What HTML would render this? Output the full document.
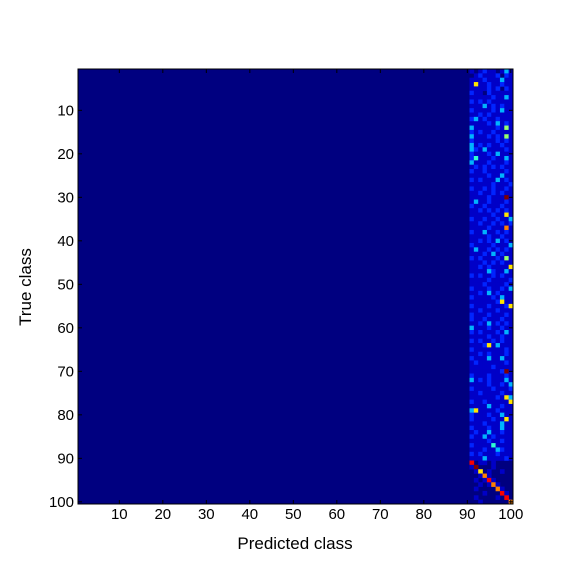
<!DOCTYPE html>
<html><head><meta charset="utf-8"><style>
html,body{margin:0;padding:0;background:#fff;}
svg text{font-family:"Liberation Sans",sans-serif;}
</style></head><body>
<svg id="chart" width="576" height="576" xmlns="http://www.w3.org/2000/svg">
<rect width="576" height="576" fill="#fff"/>
<g id="cells"></g>
<g id="axes"></g>
<text x="295" y="549" font-size="17" text-anchor="middle">Predicted class</text>
<text x="31" y="287" font-size="17" text-anchor="middle" transform="rotate(-90 31 287)">True class</text>
</svg>
<script>
const nClasses = 100;
const firstNonzeroCol = 91;
const tickLabels = [10,20,30,40,50,60,70,80,90,100];
// colour level for each data digit (0..9) on the jet scale
const levelScale = [0,0.07,0.16,0.3,0.42,0.52,0.65,0.75,0.88,1];
// rows 1..100, columns 91..100 (all other columns are 0)
const rowsData = [
"1012110131","0121112021","1112111311","1611211211","1111212021","2110211111","1111121131","2121211111","1113121211","2111121311",
"1121211111","2312112111","1111213121","3111112151","2121121111","3111212151","2111112121","3121211211","3213111121","2111213111",
"2411121131","3111211121","1212121211","2112111121","1111211311","2121113121","1111121112","2112121121","1121121211","1111211191",
"1311211121","2112111211","1121212121","1111121161","2112112113","1121121212","1111211171","2113112121","1111211211","1121213121",
"2111121113","1311212121","1112131211","2121112151","1112121211","1121211116","1111321131","2121121211","1111211112","1112111121",
"2111211213","1121312111","2111121311","1111112611","2111211126","1121112111","2111211121","2112111211","1121312121","3111211211",
"2121112131","1111211211","2121121211","1112613111","2111111121","1121211121","2111311311","1211111121","1111121111","1111111291",
"2111211121","3121211131","1111211213","2111121112","1121111211","1111112163","2112111116","1111311211","3611112111","2111211311",
"2111121161","1112111311","2111211311","1211311211","2113121111","1111211211","2111141111","1112113211","2121112111","1113111121",
"8011010000","1900010000","0160100100","0017100000","0101810000","0010171000","0100007100","0001000810","0100001080","0010000007"
];
const L=78,T=69,S=435;
const cw=S/nClasses;
const xs=k=>L+(k-0.5)*cw;
const ys=k=>T+(k-0.5)*cw;
function jet(v){const c=x=>Math.round(255*Math.max(0,Math.min(1,x)));
 return `rgb(${c(1.5-Math.abs(4*v-3))},${c(1.5-Math.abs(4*v-2))},${c(1.5-Math.abs(4*v-1))})`;}
const NS="http://www.w3.org/2000/svg";
const cells=document.getElementById('cells');
const bg=document.createElementNS(NS,'rect');
bg.setAttribute('x',L);bg.setAttribute('y',T);bg.setAttribute('width',S);bg.setAttribute('height',S);bg.setAttribute('fill',jet(0));


cells.appendChild(bg);
rowsData.forEach((row,ri)=>{
 for(let j=0;j<row.length;j++){
  const d=+row[j]; if(d===0) continue;
  const v=levelScale[d];
  const r=document.createElementNS(NS,'rect');
  const col=firstNonzeroCol+j, tr=ri+1;
  r.setAttribute('x',(xs(col)-cw/2).toFixed(2));r.setAttribute('y',(ys(tr)-cw/2).toFixed(2));
  r.setAttribute('width',(cw+0.3).toFixed(2));r.setAttribute('height',(cw+0.3).toFixed(2));
  r.setAttribute('fill',jet(v));
  
  
  cells.appendChild(r);
 }
});
const axes=document.getElementById('axes');
let h=`<rect x="${L}" y="${T}" width="${S}" height="${S}" fill="none" stroke="#000" stroke-width="1"/>`;
tickLabels.forEach(t=>{
 const x=xs(t),y=ys(t);
 h+=`<line x1="${x}" y1="${T+S}" x2="${x}" y2="${T+S-4}" stroke="#000"/><line x1="${x}" y1="${T}" x2="${x}" y2="${T+4}" stroke="#000"/>`;
 h+=`<line x1="${L}" y1="${y}" x2="${L+4}" y2="${y}" stroke="#000"/><line x1="${L+S}" y1="${y}" x2="${L+S-4}" y2="${y}" stroke="#000"/>`;
 h+=`<text x="${x}" y="${T+S+15}" font-size="15" text-anchor="middle">${t}</text>`;
 h+=`<text x="${L-4}" y="${y+5}" font-size="15" text-anchor="end">${t}</text>`;
});
axes.innerHTML=h;
</script>
</body></html>
